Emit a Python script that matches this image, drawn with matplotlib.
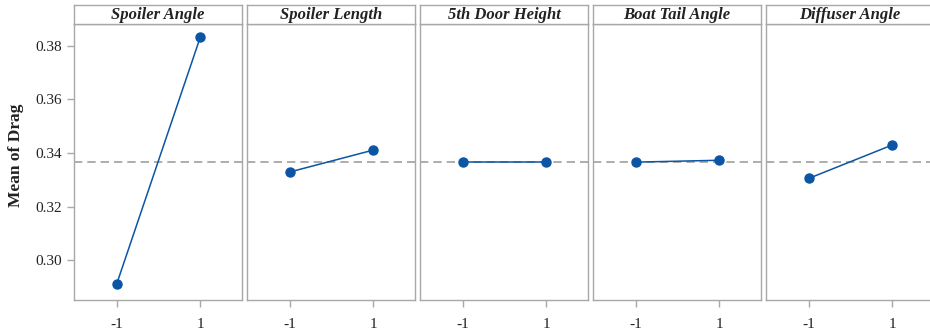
import matplotlib.pyplot as plt

factors = ["Spoiler Angle", "Spoiler Length", "5th Door Height", "Boat Tail Angle", "Diffuser Angle"]
levels = [-1, 1]
means = [
    [0.2910, 0.3832],
    [0.3329, 0.3411],
    [0.3368, 0.3368],
    [0.3366, 0.3373],
    [0.3305, 0.3430],
]
grand_mean = 0.3367
yticks = [0.30, 0.32, 0.34, 0.36, 0.38]

plt.rcParams["font.family"] = ["Liberation Serif", "DejaVu Serif"]

W, H = 930, 334
fig = plt.figure(figsize=(W / 100, H / 100), dpi=100)

edge = "#a8a8a8"
blue = "#0a55a4"
lefts = [74, 247, 420, 593, 766]
pw = 168
top, bottom, strip_top = 24, 300, 5

for i, (name, vals) in enumerate(zip(factors, means)):
    x0 = lefts[i]
    ax = fig.add_axes([x0 / W, 1 - bottom / H, pw / W, (bottom - top) / H])
    ax.axhline(grand_mean, color="#a0a0a0", lw=1.2, ls=(0, (5, 3)), zorder=1)
    ax.plot(levels, vals, color=blue, lw=1.1, marker="o", ms=6.5, zorder=3)
    ax.set_xlim(-2.02, 2.0)
    ax.set_ylim(0.2851, 0.3882)
    ax.set_xticks(levels)
    ax.set_xticklabels(["-1", "1"])
    for s in ax.spines.values():
        s.set_color(edge)
        s.set_linewidth(1.0)
    ax.tick_params(axis="both", colors=edge, labelcolor="#222222", labelsize=11,
                   length=5, width=1.0, direction="out")
    ax.tick_params(axis="x", pad=8)
    if i == 0:
        ax.set_yticks(yticks)
        ax.set_yticklabels([f"{v:.2f}" for v in yticks])
        ax.set_ylabel("Mean of Drag", fontsize=12.5, fontweight="bold", labelpad=8,
                      color="#222222", y=0.525)
    else:
        ax.set_yticks([])

    # header strip with the factor name
    sx = fig.add_axes([x0 / W, 1 - top / H, pw / W, (top - strip_top) / H])
    sx.set_xticks([])
    sx.set_yticks([])
    for s in sx.spines.values():
        s.set_color(edge)
        s.set_linewidth(1.0)
    sx.text(0.5, 0.45, name, ha="center", va="center", fontsize=12,
            fontweight="bold", fontstyle="italic", color="#222222", transform=sx.transAxes)

fig.savefig("out.png", dpi=100)
